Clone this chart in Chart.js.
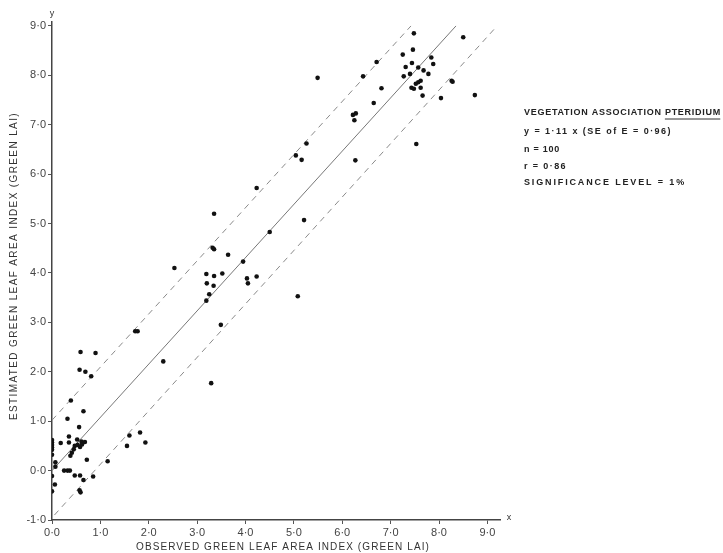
<!DOCTYPE html>
<html>
<head>
<meta charset="utf-8">
<script src="https://cdn.jsdelivr.net/npm/chart.js@4.4.0/dist/chart.umd.min.js"></script>
<style>
  body { margin: 0; background: #fff; }
  #wrap { width: 723px; height: 553px; }
</style>
</head>
<body>
<div id="wrap"><canvas id="laiChart" width="723" height="553"></canvas></div>
<script>
// Observed vs estimated green LAI
const obsX = [
    0.00, 0.00, 0.00, 0.00, 0.00, 0.00, 0.07, 0.07,
    0.18, 0.35, 0.35, 0.52, 0.61, 0.68, 0.47, 0.53, 0.45, 0.41, 0.38, 0.58, 0.62,
    0.25, 0.32, 0.37,
    0.00, 0.06, 0.00, 0.47, 0.58, 0.65, 0.85, 0.57, 0.59,
    0.72, 1.15, 1.55, 1.60, 1.82, 1.93,
    0.56, 0.32, 0.65, 0.39,
    0.57, 0.69, 0.81, 0.59, 0.90,
    1.72, 1.77, 2.30, 2.53,
    3.29, 3.49, 3.19, 3.25, 3.34, 3.20, 3.19, 3.35, 3.52, 4.03, 4.05, 4.23, 3.64,
    3.95, 3.32, 3.35, 4.50, 3.35, 5.21, 5.08, 4.23, 5.04, 5.16, 5.26, 5.49,
    6.27, 7.53, 6.22, 6.28, 6.25, 6.65, 6.43, 6.71, 6.81, 7.25, 7.46, 7.48, 8.50,
    7.84, 7.31, 7.44, 7.57, 7.88, 7.68, 7.78, 7.40, 7.27, 7.57, 7.62, 7.52, 8.26,
    8.28, 7.43, 7.48, 7.62, 7.66, 8.04, 8.74
];
const estY = [
    0.62, 0.57, 0.52, 0.47, 0.42, 0.32, 0.17, 0.08,
    0.56, 0.69, 0.57, 0.63, 0.59, 0.58, 0.50, 0.52, 0.43, 0.36, 0.30, 0.48, 0.53,
    0.00, 0.00, 0.00,
    -0.11, -0.28, -0.42, -0.10, -0.10, -0.19, -0.12, -0.40, -0.44,
    0.22, 0.19, 0.50, 0.71, 0.77, 0.57,
    0.88, 1.05, 1.20, 1.42,
    2.04, 2.00, 1.91, 2.40, 2.38,
    2.82, 2.82, 2.21, 4.10,
    1.77, 2.95, 3.44, 3.57, 3.74, 3.79, 3.98, 3.94, 3.99, 3.89, 3.79, 3.93, 4.37,
    4.23, 4.51, 4.48, 4.83, 5.20, 5.07, 3.53, 5.72, 6.38, 6.29, 6.62, 7.95,
    6.28, 6.61, 7.20, 7.23, 7.09, 7.44, 7.98, 8.27, 7.74, 8.42, 8.52, 8.85, 8.77,
    8.36, 8.17, 8.25, 8.16, 8.23, 8.10, 8.03, 8.03, 7.98, 7.86, 7.89, 7.83, 7.89,
    7.87, 7.75, 7.73, 7.75, 7.59, 7.54, 7.60
];

// Regression line and +/- SE band, end points
const fitX = [0.0, 8.35];
const fitY = [0.0, 9.0];
const upperX = [0.0, 7.42];
const upperY = [1.02, 9.0];
const lowerX = [0.05, 9.2];
const lowerY = [-0.9, 9.0];

const xTicks = [0, 1, 2, 3, 4, 5, 6, 7, 8, 9];
const yTicks = [-1, 0, 1, 2, 3, 4, 5, 6, 7, 8, 9];

const yTitle = 'ESTIMATED GREEN LEAF AREA INDEX (GREEN LAI)';
const xTitle = 'OBSERVED GREEN LEAF AREA INDEX (GREEN LAI)';
const notes = [
    'VEGETATION ASSOCIATION PTERIDIUM',
    'y = 1·11 x (SE of E = 0·96)',
    'n = 100',
    'r = 0·86',
    'SIGNIFICANCE LEVEL = 1%'
];

function toPoints(xs, ys) {
    return xs.map((x, i) => ({ x: x, y: ys[i] }));
}

function fmt(v) {
    return v.toFixed(1).replace('.', '·');
}

// draw text stretched to a given width with letter spacing
function spaced(ctx, text, x, y, width) {
    ctx.letterSpacing = '0px';
    const w = ctx.measureText(text).width;
    const ls = (width - w) / text.length;
    ctx.letterSpacing = ls + 'px';
    ctx.textAlign = 'left';
    ctx.fillText(text, x, y);
    return ls;
}

const textPlugin = {
    id: 'textPlugin',
    afterDraw(chart) {
        const ctx = chart.ctx;
        const area = chart.chartArea;
        ctx.save();
        ctx.fillStyle = '#333';
        ctx.textBaseline = 'middle';

        ctx.font = '9px "Liberation Sans"';
        ctx.textAlign = 'center';
        ctx.fillText('y', area.left, 14);
        ctx.fillText('x', area.right + 9, area.bottom - 2);

        // axis titles
        ctx.font = '10px "Liberation Sans"';
        spaced(ctx, xTitle, 136, 547, 294);
        ctx.save();
        ctx.translate(14, 266);
        ctx.rotate(-Math.PI / 2);
        spaced(ctx, yTitle, -154, 0, 308);
        ctx.restore();

        // annotation block
        ctx.fillStyle = '#222';
        const left = 524;
        const rows = [113, 132, 150, 167, 183];
        const widths = [197, 148, 36, 43, 162];
        notes.forEach((t, i) => {
            ctx.font = 'bold 9px "Liberation Sans"';
            const ls = spaced(ctx, t, left, rows[i], widths[i]);
            if (i === 0) {
                const pre = ctx.measureText('VEGETATION ASSOCIATION ').width;
                const word = ctx.measureText('PTERIDIUM').width - ls;
                ctx.strokeStyle = '#333';
                ctx.lineWidth = 1;
                ctx.beginPath();
                ctx.moveTo(left + pre, rows[i] + 6);
                ctx.lineTo(left + pre + word, rows[i] + 6);
                ctx.stroke();
            }
        });
        ctx.restore();
    }
};

const ctx = document.getElementById('laiChart').getContext('2d');
new Chart(ctx, {
    type: 'scatter',
    data: {
        datasets: [
            {
                label: 'sites',
                data: toPoints(obsX, estY),
                pointRadius: 2.3,
                pointBackgroundColor: '#111',
                pointBorderWidth: 0
            },
            {
                type: 'line',
                label: 'fit',
                data: toPoints(fitX, fitY),
                borderColor: '#777',
                borderWidth: 1,
                pointRadius: 0,
                fill: false
            },
            {
                type: 'line',
                label: 'upper',
                data: toPoints(upperX, upperY),
                borderColor: '#8a8a8a',
                borderWidth: 1,
                borderDash: [6, 5],
                pointRadius: 0,
                fill: false
            },
            {
                type: 'line',
                label: 'lower',
                data: toPoints(lowerX, lowerY),
                borderColor: '#8a8a8a',
                borderWidth: 1,
                borderDash: [6, 5],
                pointRadius: 0,
                fill: false
            }
        ]
    },
    options: {
        responsive: false,
        animation: false,
        layout: { padding: { top: 22, right: 223, bottom: 0, left: 0 } },
        plugins: {
            legend: { display: false },
            tooltip: { enabled: false }
        },
        scales: {
            x: {
                type: 'linear',
                min: 0,
                max: 9.26,
                afterFit: s => { s.height = 33; },
                afterBuildTicks: s => { s.ticks = xTicks.map(v => ({ value: v })); },
                ticks: {
                    autoSkip: false,
                    maxRotation: 0,
                    padding: 2,
                    color: '#444',
                    font: { family: 'Liberation Sans', size: 11 },
                    callback: v => fmt(v)
                },
                grid: { drawOnChartArea: false, tickLength: 4, color: '#555' },
                border: { color: '#444', width: 1.5 }
            },
            y: {
                type: 'linear',
                min: -1,
                max: 9.08,
                afterFit: s => { s.width = 52; },
                afterBuildTicks: s => { s.ticks = yTicks.map(v => ({ value: v })); },
                ticks: {
                    autoSkip: false,
                    padding: 2,
                    color: '#444',
                    font: { family: 'Liberation Sans', size: 11 },
                    callback: v => fmt(v)
                },
                grid: { drawOnChartArea: false, tickLength: 4, color: '#555' },
                border: { color: '#444', width: 1.5 }
            }
        }
    },
    plugins: [textPlugin]
});
</script>
</body>
</html>
